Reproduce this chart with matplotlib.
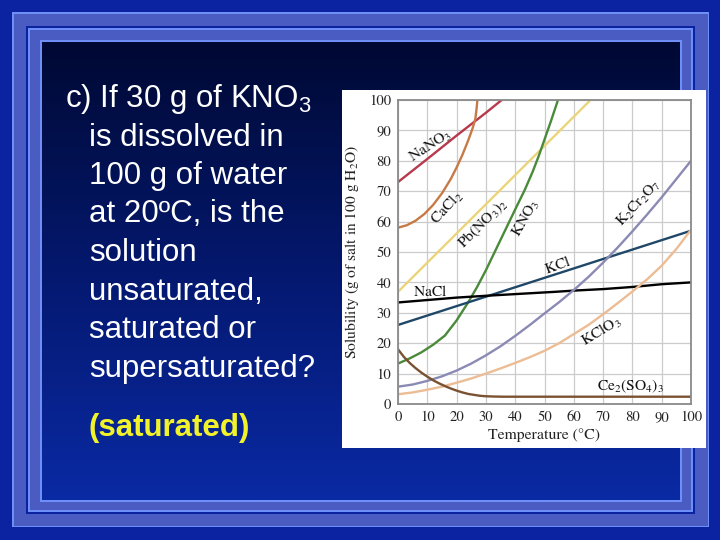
import numpy as np
import matplotlib
matplotlib.use('Agg')
import matplotlib.pyplot as plt
from matplotlib.patches import Rectangle
from matplotlib.colors import LinearSegmentedColormap

plt.rcParams['mathtext.fontset'] = 'custom'
plt.rcParams['mathtext.rm'] = 'Liberation Sans'

# Solubility curves (g of salt in 100 g H2O)
tempNaNO3 = [0, 10, 20, 30, 35.4]
solNaNO3 = [73, 80.6, 88.3, 95.8, 100]

tempCaCl2 = [0, 3, 6, 9, 12, 15, 18, 20, 22, 24, 25.5, 26.4, 26.8, 27.1]
solCaCl2 = [58, 58.8, 60.3, 62.5, 65.5, 69.3, 74, 77.8, 82, 86.8, 90.8, 93.8, 97, 100]

tempPbNO32 = [0, 10, 20, 30, 40, 50, 60, 65.7]
solPbNO32 = [36.9, 46.5, 56.1, 65.7, 75.3, 84.9, 94.5, 100]

tempKNO3 = [0, 4, 8, 12, 16, 20, 24, 27, 30, 33, 36, 40, 43.3, 46, 48, 50, 52, 54.6]
solKNO3 = [13.3, 15, 17, 19.5, 22.5, 27.5, 33.5, 38.5, 44, 50, 56, 64, 70.5, 76.5, 81.5, 87, 92.5, 100]

tempKCl = [0, 20, 40, 60, 80, 100]
solKCl = [26, 32.2, 38.4, 44.6, 50.8, 57]

tempNaCl = [0, 20, 30, 53.6, 60, 70, 80, 90, 100]
solNaCl = [33.4, 35, 35.6, 36.9, 37.3, 37.8, 38.5, 39.4, 40]

tempK2Cr2O7 = [0, 5, 10, 15, 20, 25, 30, 35, 40, 45, 50, 55, 60, 65, 70, 75, 80, 85, 90, 95, 100]
solK2Cr2O7 = [5.7, 6.4, 7.6, 9.1, 11, 13.3, 16, 19, 22.4, 26, 29.8, 33.5, 37.5, 41.8, 46.5,
              51.5, 56.8, 62.3, 68, 74, 80]

tempKClO3 = [0, 5, 10, 15, 20, 25, 30, 35, 40, 45, 50, 55, 60, 65, 70, 75, 80, 85, 90, 95, 100]
solKClO3 = [3.2, 3.8, 4.7, 5.7, 7, 8.4, 10, 11.7, 13.5, 15.4, 17.5, 20, 23, 26, 29.5,
            33.2, 37, 41, 45.5, 51, 57.3]

tempCe2SO43 = [0, 2, 4, 6, 8, 10, 12, 14, 16, 18, 20, 22, 24, 26, 28, 30, 33, 36, 100]
solCe2SO43 = [18, 15.5, 13.5, 11.8, 10.3, 9, 7.8, 6.8, 5.9, 5.1, 4.4, 3.8, 3.3, 3, 2.7,
              2.55, 2.45, 2.4, 2.4]

ticks = [0, 10, 20, 30, 40, 50, 60, 70, 80, 90, 100]

questionLines = ['c) If 30 g of KNO$_3$', 'is dissolved in', '100 g of water',
                 'at 20ºC, is the', 'solution', 'unsaturated,', 'saturated or',
                 'supersaturated?']
answerText = '(saturated)'

fig = plt.figure(figsize=(7.2, 5.4), dpi=100)

# Slide background, drawn in pixel coordinates
bg = fig.add_axes([0, 0, 1, 1])
bg.set_xlim(0, 720)
bg.set_ylim(540, 0)
bg.axis('off')
bg.add_patch(Rectangle((0, 0), 720, 540, color='#0b23a0'))

frame = [((12, 12, 709, 527), '#6f8ff8'),
         ((13.5, 13.5, 707.5, 525.5), '#4a5cc2'),
         ((26, 26, 695, 514), '#0b23a0'),
         ((28, 28, 693, 512), '#6f8ff8'),
         ((30, 30, 691, 510), '#4a5cc2'),
         ((40, 40, 682, 502), '#6f8ff8')]
for (x0, y0, x1, y1), c in frame:
    bg.add_patch(Rectangle((x0, y0), x1 - x0, y1 - y0, color=c, lw=0))

# inner panel gradient, dark navy at top to blue at bottom
panelCmap = LinearSegmentedColormap.from_list('panel', ['#000933', '#04186e', '#0a2aa4'])
grad = np.linspace(0, 1, 256).reshape(-1, 1)
bg.imshow(grad, extent=(42, 680, 500, 42), aspect='auto', cmap=panelCmap, zorder=2)

# white picture of the chart
bg.add_patch(Rectangle((342, 90), 364, 358, color='white', lw=0, zorder=3))

# question text
baselines = [107, 145.5, 184, 222.5, 261, 299.5, 338, 376.5]
for i, line in enumerate(questionLines):
    x = 65 if i == 0 else 89
    bg.text(x, baselines[i], line, color='white', fontsize=22.5, family='Liberation Sans',
            va='baseline', ha='left', math_fontfamily='custom', zorder=4)
bg.text(89, 436, answerText, color='#f2f22a', fontsize=22.5, family='Liberation Sans',
        fontweight='bold', va='baseline', ha='left', zorder=4)
bg.set_xlim(0, 720)
bg.set_ylim(540, 0)

# Solubility chart
ax = fig.add_axes([398 / 720, (540 - 404) / 540, 293 / 720, 304 / 540])
ax.set_xlim(0, 100)
ax.set_ylim(0, 100)
ax.set_xticks(ticks)
ax.set_yticks(ticks)
ax.grid(True, color='#cbcbcb', lw=0.9)
ax.set_axisbelow(True)
for s in ax.spines.values():
    s.set_color('#8a8a8a')
    s.set_linewidth(1.3)
ax.tick_params(length=0, labelsize=10.5, pad=5, labelcolor='#222222')
for lab in ax.get_xticklabels() + ax.get_yticklabels():
    lab.set_family('STIXGeneral')

lw = 1.7
ax.plot(tempNaNO3, solNaNO3, color='#b8384c', lw=lw)
ax.plot(tempCaCl2, solCaCl2, color='#c77a45', lw=lw)
ax.plot(tempPbNO32, solPbNO32, color='#ead57a', lw=lw)
ax.plot(tempKNO3, solKNO3, color='#4a8a3a', lw=lw)
ax.plot(tempKCl, solKCl, color='#1f4868', lw=lw)
ax.plot(tempNaCl, solNaCl, color='black', lw=lw)
ax.plot(tempK2Cr2O7, solK2Cr2O7, color='#8a8ab4', lw=lw)
ax.plot(tempKClO3, solKClO3, color='#ecbc94', lw=lw)
ax.plot(tempCe2SO43, solCe2SO43, color='#7a5232', lw=lw)

# curve labels: (text, x, y, rotation)
labels = [(r'$\mathrm{NaNO_3}$', 11, 84.9, 33),
          (r'$\mathrm{CaCl_2}$', 16.7, 64.4, 47),
          (r'$\mathrm{Pb(NO_3)_2}$', 29.2, 59.4, 45),
          (r'$\mathrm{KNO_3}$', 43.6, 61, 60),
          (r'$\mathrm{KCl}$', 54.4, 45.7, 20),
          (r'$\mathrm{NaCl}$', 11, 37, 0),
          (r'$\mathrm{K_2Cr_2O_7}$', 82.3, 66, 47),
          (r'$\mathrm{KClO_3}$', 69.3, 23.8, 31),
          (r'$\mathrm{Ce_2(SO_4)_3}$', 79.4, 5.9, 0)]
for txt, x, y, rot in labels:
    ax.text(x, y, txt, fontsize=11.2, rotation=rot, ha='center', va='center',
            math_fontfamily='stix', color='#111111')

ax.text(-0.157, 0.5, r'Solubility (g of salt in 100 g H$_2$O)', transform=ax.transAxes,
        rotation=90, ha='center', va='center', fontsize=11.2, family='STIXGeneral',
        math_fontfamily='stix', color='#222222')
ax.text(0.5, -0.103, 'Temperature (°C)', transform=ax.transAxes, ha='center', va='center',
        fontsize=11.3, family='STIXGeneral', color='#222222')

fig.savefig('out.png', dpi=100)
